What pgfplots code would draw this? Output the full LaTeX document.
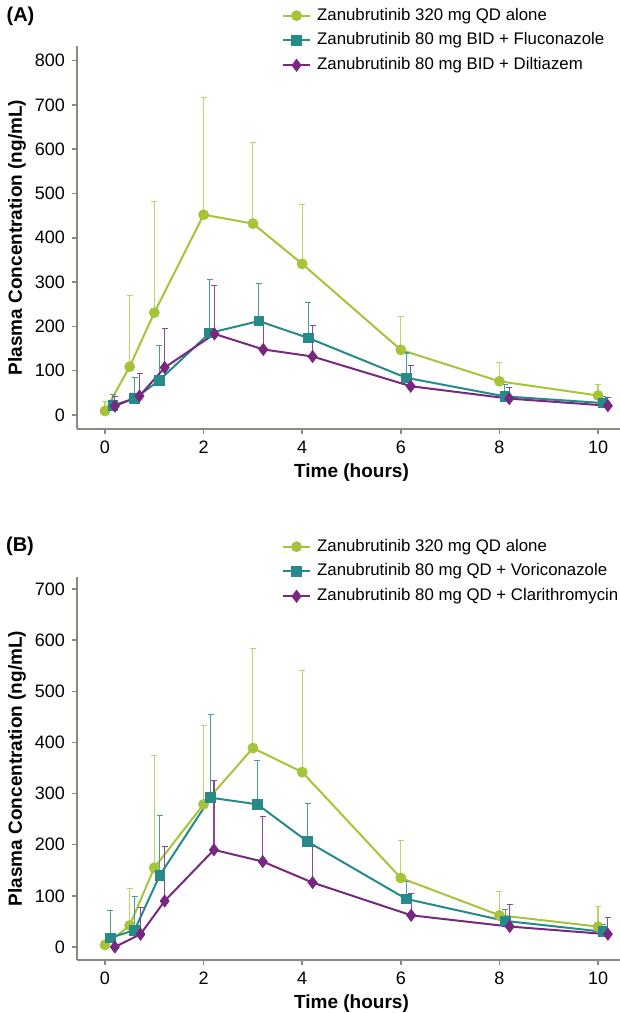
\documentclass[border=0pt]{standalone}
\usepackage{fontspec}
\setmainfont{Liberation Sans}
\usepackage{pgfplots}
\usepackage{pgfplotstable}
\pgfplotsset{compat=1.18}
\definecolor{cgreen}{RGB}{166,196,58}
\definecolor{cteal}{RGB}{38,138,136}
\definecolor{cpurple}{RGB}{120,40,128}
\definecolor{axgray}{RGB}{140,136,130}

% panel A: 320 mg alone / + fluconazole / + diltiazem
\pgfplotstableread{
t m e
0 9 22
0.5 109 161
1 231 250
2 452 265
3 432 182
4 341 135
6 147 75
8 76 42
10 44 24
}\Agreen
\pgfplotstableread{
t m e
0.16 22 24
0.6 37 48
1.1 78 79
2.12 185 120
3.12 212 85
4.12 174 79
6.11 84 56
8.11 42 26
10.1 27 15
}\Ateal
\pgfplotstableread{
t m e
0.2 20 21
0.7 43 51
1.21 107 89
2.22 183 110
3.21 148 60
4.21 132 69
6.2 65 47
8.2 37 26
10.2 21 19
}\Apurple

% panel B: 320 mg alone / + voriconazole / + clarithromycin
\pgfplotstableread{
t m e
0 4 0
0.5 42 72
1 155 219
2 279 155
3 389 194
4 342 198
6 135 73
8 62 46
10 40 39
}\Bgreen
\pgfplotstableread{
t m e
0.11 18 53
0.6 33 66
1.11 140 118
2.14 292 162
3.09 279 85
4.11 206 75
6.11 94 34
8.12 51 23
10.1 30 14
}\Bteal
\pgfplotstableread{
t m e
0.2 0 0
0.72 25 52
1.21 90 107
2.21 190 136
3.2 167 89
4.21 126 70
6.21 62 42
8.21 40 43
10.2 25 33
}\Bpurple

\pgfplotsset{
  pkpanel/.style={
    scale only axis, width=271.5pt, height=191.5pt,
    axis x line*=bottom, axis y line*=left,
    axis line style={draw=axgray, line width=0.75pt},
    tick style={draw=axgray, line width=0.75pt},
    tick align=outside, major tick length=2.5pt,
    xmin=-0.568, xmax=10.446, xtick={0,2,...,10},
    tick label style={font=\fontsize{9}{10.8}\selectfont},
    /pgf/number format/assume math mode=true,
    label style={font=\bfseries\fontsize{9.5}{11.4}\selectfont},
    xlabel={Time (hours)},
    ylabel={Plasma Concentration (ng/mL)},
    xlabel style={at={(axis description cs:0.5055,-0.114)}, anchor=center},
    ylabel style={at={(axis description cs:-0.1105,0.5)}, anchor=center},
    legend style={at={(axis description cs:0.3775,1.0987)}, anchor=north west,
      draw=none, fill=none, inner sep=0pt, outer sep=0pt,
      row sep=4.9pt, column sep=3pt,
      font=\fontsize{8.4}{10}\selectfont,
      nodes={inner sep=0pt, text height=6pt, text depth=1.5pt}},
    legend cell align=left,
    legend image code/.code={\draw[mark repeat=2,mark phase=2]
      plot coordinates {(0pt,0pt) (6.8pt,0pt) (13.6pt,0pt)};},
    clip=false,
  },
  sgreen/.style={color=cgreen, line width=1pt, mark=*, mark size=2.5pt,
    mark options={solid, line width=0.4pt},
    error bars/.cd, y dir=plus, y explicit,
    error bar style={cgreen!75!white, line width=0.55pt},
    error mark options={rotate=90, mark size=1.5pt, cgreen!75!white, line width=0.55pt}},
  steal/.style={color=cteal, line width=1pt, mark=square*, mark size=2.4pt,
    mark options={solid, line width=0.4pt},
    error bars/.cd, y dir=plus, y explicit,
    error bar style={cteal!85!white, line width=0.55pt},
    error mark options={rotate=90, mark size=1.5pt, cteal!85!white, line width=0.55pt}},
  spurple/.style={color=cpurple, line width=1pt, mark=diamond*, mark size=3pt,
    mark options={solid, line width=0.4pt},
    error bars/.cd, y dir=plus, y explicit,
    error bar style={cpurple!85!white, line width=0.55pt},
    error mark options={rotate=90, mark size=1.5pt, cpurple!85!white, line width=0.55pt}},
}

\begin{document}
\begin{tikzpicture}
\useasboundingbox (0,0) rectangle (310pt,506.5pt);

\node[font=\bfseries\fontsize{10}{12}\selectfont] at (10.25pt,498.25pt) {(A)};
\node[font=\bfseries\fontsize{10}{12}\selectfont] at (10pt,233.15pt) {(B)};

\begin{axis}[pkpanel, at={(38.5pt,292pt)}, anchor=south west,
  ymin=-31.6, ymax=832.8, ytick={0,100,...,800}]
\addplot[sgreen] table[x=t, y=m, y error=e] {\Agreen};
\addlegendentry{Zanubrutinib 320 mg QD alone}
\addplot[steal] table[x=t, y=m, y error=e] {\Ateal};
\addlegendentry{Zanubrutinib 80 mg BID + Fluconazole}
\addplot[spurple] table[x=t, y=m, y error=e] {\Apurple};
\addlegendentry{Zanubrutinib 80 mg BID + Diltiazem}
\end{axis}

\begin{axis}[pkpanel, at={(38.5pt,26.5pt)}, anchor=south west,
  ymin=-25.4, ymax=723.5, ytick={0,100,...,700}]
\addplot[sgreen] table[x=t, y=m, y error=e] {\Bgreen};
\addlegendentry{Zanubrutinib 320 mg QD alone}
\addplot[steal] table[x=t, y=m, y error=e] {\Bteal};
\addlegendentry{Zanubrutinib 80 mg QD + Voriconazole}
\addplot[spurple] table[x=t, y=m, y error=e] {\Bpurple};
\addlegendentry{Zanubrutinib 80 mg QD + Clarithromycin}
\end{axis}
\end{tikzpicture}
\end{document}
